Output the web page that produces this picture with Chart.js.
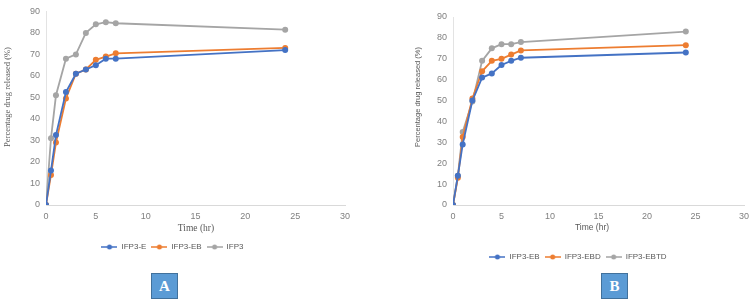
<!DOCTYPE html>
<html><head><meta charset="utf-8">
<script src="https://cdn.jsdelivr.net/npm/chart.js@4"></script>
<style>
body{margin:0;background:#fff;width:756px;height:304px;overflow:hidden;position:relative}
#wa{position:absolute;left:0;top:0;width:357px;height:261px}
#wb{position:absolute;left:412px;top:0;width:344px;height:271px}
.box{position:absolute;top:273px;width:25px;height:24px;background:#5b9bd5;color:#fff;font:bold 15px 'Liberation Serif',serif;text-align:center;line-height:25px;border:1px solid #41719c}
</style></head><body>
<div id="wa"><canvas id="ca"></canvas></div>
<div id="wb"><canvas id="cb"></canvas></div>
<div class="box" style="left:151px">A</div>
<div class="box" style="left:601px">B</div>
<script>
// ---- data ----
const timeHr = [0, 0.5, 1, 2, 3, 4, 5, 6, 7, 24];
const namesA = ['IFP3-E', 'IFP3-EB', 'IFP3'];
const ifp3E   = [0, 16, 32.5, 52.5, 61, 63, 65, 68, 68, 72];
const ifp3EB_A = [0, 14, 29, 49.5, 61, 63, 67.5, 69, 70.5, 73];
const ifp3    = [0, 31, 51, 68, 70, 80, 84, 85, 84.5, 81.5];
const namesB = ['IFP3-EB', 'IFP3-EBD', 'IFP3-EBTD'];
const ifp3EB_B = [0, 14, 29, 50, 61, 63, 67, 69, 70.5, 73];
const ifp3EBD  = [0, 13, 32.5, 51, 64, 69, 70, 72, 74, 76.5];
const ifp3EBTD = [0, 14, 35, 49.5, 69, 75, 77, 77, 78, 83];
const xTicks = [0, 5, 10, 15, 20, 25, 30];
const yTicks = [0, 10, 20, 30, 40, 50, 60, 70, 80, 90];
const xTitle = 'Time (hr)';
const yTitle = 'Percentage drug released (%)';
const colors = ['#4472c4', '#ed7d31', '#a5a5a5'];

function legendIcon(c){
  const cv = document.createElement('canvas'); cv.width = 16; cv.height = 6;
  const x = cv.getContext('2d');
  x.strokeStyle = c; x.lineWidth = 1.5; x.beginPath(); x.moveTo(0,3); x.lineTo(16,3); x.stroke();
  x.fillStyle = c; x.beginPath(); x.arc(8,3,2.5,0,Math.PI*2); x.fill();
  return cv;
}
function ds(name, vals, i){
  return {label:name, data: timeHr.map((t,k)=>({x:t,y:vals[k]})), borderColor:colors[i], backgroundColor:colors[i],
    borderWidth:1.8, pointRadius:3, pointBorderWidth:0, pointHoverRadius:3, showLine:true, tension:0};
}
const titlePlugin = {
  id:'axisTitles',
  afterDraw(chart, args, o){
    const ctx = chart.ctx;
    o.items.forEach(t=>{
      ctx.save();
      ctx.font = t.font; ctx.fillStyle = '#595959';
      ctx.textAlign = 'center'; ctx.textBaseline = 'middle';
      ctx.translate(t.x, t.y); ctx.rotate(t.rot || 0);
      ctx.fillText(t.text, 0, 0);
      ctx.restore();
    });
  }
};
function make(id, names, series, cfg){
  new Chart(document.getElementById(id), {
    type:'scatter',
    data:{datasets: series.map((s,i)=>ds(names[i], s, i))},
    plugins:[titlePlugin],
    options:{
      responsive:true, maintainAspectRatio:false, animation:false,
      layout:{padding:{top:cfg.top, right:cfg.right, left:0, bottom:0}},
      plugins:{
        tooltip:{enabled:false},
        axisTitles:{items:cfg.titles},
        legend:{position:'bottom', labels:{usePointStyle:true, pointStyleWidth:16, padding:5, color:'#595959',
          font:{family:'Liberation Sans', size:8},
          generateLabels:(ch)=>ch.data.datasets.map((d,i)=>({text:d.label, pointStyle:legendIcon(colors[i]), fillStyle:colors[i], strokeStyle:colors[i], lineWidth:0, hidden:false, datasetIndex:i, fontColor:'#595959'}))}}
      },
      scales:{
        x:{type:'linear', min:0, max:30,
          afterBuildTicks:(s)=>{s.ticks = xTicks.map(v=>({value:v}));},
          afterFit:(s)=>{s.height = cfg.xh;},
          grid:{display:false, drawTicks:false},
          border:{display:true, color:'#d9d9d9', width:1},
          ticks:{color:'#808080', padding:6, font:{family:'Liberation Sans', size:9}},
          title:{display:false}},
        y:{type:'linear', min:0, max:90,
          afterBuildTicks:(s)=>{s.ticks = yTicks.map(v=>({value:v}));},
          afterFit:(s)=>{s.width = cfg.yw;},
          grid:{display:false, drawTicks:false},
          border:{display:true, color:'#e3e3e3', width:1},
          ticks:{color:'#808080', padding:6, font:{family:'Liberation Sans', size:9}},
          title:{display:false}}
      }
    }
  });
}
make('ca', namesA, [ifp3E, ifp3EB_A, ifp3], {top:9, right:12, xh:33, yw:46,
  titles:[{text:yTitle, x:8, y:97, rot:-Math.PI/2, font:'8.5px "Liberation Serif"'},
          {text:xTitle, x:196, y:228, font:'9.5px "Liberation Serif"'}]});
make('cb', namesB, [ifp3EB_B, ifp3EBD, ifp3EBTD], {top:17, right:12, xh:43, yw:41,
  titles:[{text:yTitle, x:6, y:97, rot:-Math.PI/2, font:'7.5px "Liberation Sans"'},
          {text:xTitle, x:180, y:228, font:'8.5px "Liberation Sans"'}]});
</script>
</body></html>
